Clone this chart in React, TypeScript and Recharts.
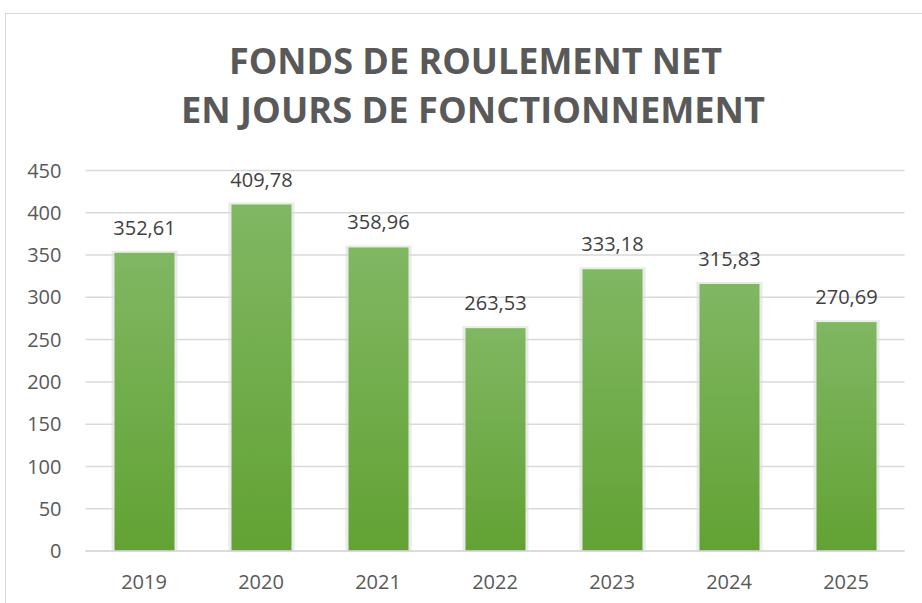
import { Bar, BarChart, CartesianGrid, LabelList, XAxis, YAxis } from "recharts";

const years = ["2019", "2020", "2021", "2022", "2023", "2024", "2025"];
const joursFdr = [352.61, 409.78, 358.96, 263.53, 333.18, 315.83, 270.69];
const yTicks = [0, 50, 100, 150, 200, 250, 300, 350, 400, 450];

const data = years.map((year, i) => ({ year, jours: joursFdr[i] }));

const FONT = "'Open Sans', 'DejaVu Sans', sans-serif";

function formatFr(v: number | string | undefined) {
  if (v == null) return "";
  return Number(v).toFixed(2).replace(".", ",");
}

// bar with the soft grey halo seen around each column
function ShadowBar(props: any) {
  const { x, y, width, height } = props;
  if (!height || height <= 0) return null;
  return (
    <g>
      <rect x={x - 3} y={y - 2} width={width + 6} height={height + 2} fill="#dcdcdc" opacity={0.6} />
      <rect x={x} y={y} width={width} height={height} fill="url(#barGreen)" />
    </g>
  );
}

export default function App() {
  return (
    <div style={{ position: "absolute", left: 0, top: 0, width: 922, height: 603, overflow: "hidden", background: "#fff" }}>
      <div
        style={{
          position: "absolute",
          left: 5,
          top: 13,
          width: 940,
          height: 620,
          border: "1px solid #d9d9d9",
          boxSizing: "border-box",
        }}
      />
      <svg width={922} height={140} style={{ position: "absolute", left: 0, top: 0 }}>
        <text
          x={229}
          y={73.5}
          textLength={493}
          lengthAdjust="spacingAndGlyphs"
          fontFamily={FONT}
          fontWeight={700}
          fontSize={35}
          fill="#595959"
        >
          FONDS DE ROULEMENT NET
        </text>
        <text
          x={181}
          y={123}
          textLength={584}
          lengthAdjust="spacingAndGlyphs"
          fontFamily={FONT}
          fontWeight={700}
          fontSize={35}
          fill="#595959"
        >
          EN JOURS DE FONCTIONNEMENT
        </text>
      </svg>
      <div style={{ position: "absolute", left: 0, top: 0 }}>
        <BarChart
          width={922}
          height={603}
          data={data}
          margin={{ top: 170.5, right: 17.5, left: 15.5, bottom: 22 }}
          barSize={60}
        >
          <defs>
            <linearGradient id="barGreen" x1="0" y1="0" x2="0" y2="1">
              <stop offset="0%" stopColor="#80b763" />
              <stop offset="100%" stopColor="#62a233" />
            </linearGradient>
          </defs>
          <CartesianGrid vertical={false} stroke="#d9d9d9" strokeWidth={1.5} />
          <XAxis
            dataKey="year"
            height={30}
            axisLine={{ stroke: "#d9d9d9", strokeWidth: 1.5 }}
            tickLine={false}
            tickSize={0}
            tickMargin={24}
            tick={{ fontSize: 20, fill: "#595959", fontFamily: FONT }}
          />
          <YAxis
            width={70}
            domain={[0, 450]}
            ticks={yTicks}
            axisLine={false}
            tickLine={false}
            tickSize={0}
            tickMargin={24}
            tick={{ fontSize: 20, fill: "#595959", fontFamily: FONT }}
          />
          <Bar dataKey="jours" shape={<ShadowBar />} isAnimationActive={false}>
            <LabelList
              dataKey="jours"
              position="top"
              offset={18}
              formatter={formatFr}
              style={{ fontSize: 20, fill: "#404040", fontFamily: FONT }}
            />
          </Bar>
        </BarChart>
      </div>
    </div>
  );
}
